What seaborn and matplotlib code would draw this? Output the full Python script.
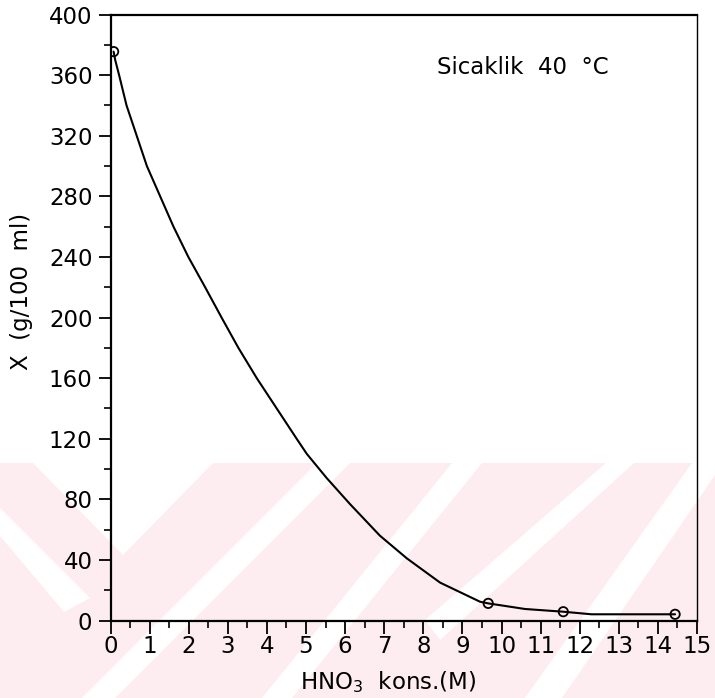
import numpy as np
import pandas as pd
import matplotlib
matplotlib.use("Agg")
import matplotlib.pyplot as plt
import seaborn as sns
from matplotlib.patches import Polygon
from matplotlib.ticker import MultipleLocator

# measured points: HNO3 concentration (M) vs solubility X (g/100 ml)
conc_points = [0.08, 9.66, 11.58, 14.44]
x_points = [375.5, 11.3, 5.8, 4.1]

# the smooth curve drawn through them
conc_curve = [0.08, 0.12, 0.22, 0.41, 0.67, 0.93, 1.27, 1.61, 1.99, 2.42, 2.84,
              3.27, 3.74, 4.25, 4.76, 5.02, 5.53, 6.12, 6.89, 7.58, 8.43, 9.45,
              9.66, 10.6, 11.58, 12.3, 14.44]
x_curve = [375.5, 370, 360, 340, 320, 300, 280, 260, 240, 220, 200,
           180, 160, 140, 120, 110, 94, 77, 56, 41, 25, 12.4,
           11.3, 7.6, 5.8, 4.1, 4.1]

x_ticks = list(range(0, 16))
y_ticks = list(range(0, 401, 40))
note = "Sicaklik  40  °C"

sns.set_style("ticks")
plt.rcParams['font.family'] = ['DejaVu Sans']
for key in ['text.color', 'axes.labelcolor', 'xtick.color', 'ytick.color',
            'axes.edgecolor']:
    plt.rcParams[key] = 'black'

W, H = 715, 698
fig = plt.figure(figsize=(W / 100, H / 100), dpi=100)


def px_poly(pts, color):
    # pts in image pixels (origin top left)
    xy = [(x / W, 1 - y / H) for x, y in pts]
    fig.add_artist(Polygon(xy, closed=True, transform=fig.transFigure,
                           facecolor=color, edgecolor='none', zorder=-5))


# faint watermark band in the lower part of the page
pink = '#fdedf0'
px_poly([(0, 463), (W, 463), (W, H), (0, H)], pink)
for pts in [
    [(33, 463), (213, 463), (123, 555)],
    [(0, 508), (0, 536), (64, 612), (90, 598)],
    [(317, 463), (350, 463), (115, 698), (82, 698)],
    [(452, 463), (482, 463), (292, 698), (262, 698)],
    [(606, 463), (634, 463), (440, 640), (425, 620)],
    [(692, 463), (W, 463), (W, 475), (562, 698), (525, 698)],
]:
    px_poly(pts, 'white')

ax = fig.add_axes([110.5 / W, 1 - 620.5 / H, (697 - 110.5) / W, (620.5 - 14.5) / H])
ax.set_facecolor('none')

sns.lineplot(x=conc_curve, y=x_curve, ax=ax, color='black', linewidth=1.5,
             estimator=None, sort=False)
sns.scatterplot(x=conc_points, y=x_points, ax=ax, marker='o', s=45,
                facecolors='none', edgecolor='black', linewidth=1.3, zorder=5)

ax.set_xlim(0, 15)
ax.set_ylim(0, 400)
ax.set_xticks(x_ticks)
ax.set_yticks(y_ticks)
ax.xaxis.set_minor_locator(MultipleLocator(0.5))
ax.yaxis.set_minor_locator(MultipleLocator(20))
ax.tick_params(which='major', direction='out', length=9, width=1.3,
               labelsize=16.5, pad=1.5)
ax.tick_params(which='minor', direction='out', length=5, width=1.2)
ax.tick_params(axis='y', which='major', pad=4)

for side in ['left', 'bottom', 'top']:
    ax.spines[side].set_linewidth(1.6)
ax.spines['right'].set_linewidth(1.0)

ax.set_xlabel("HNO$_3$  kons.(M)", fontsize=16.5)
ax.xaxis.set_label_coords((388 - 110.5) / (697 - 110.5), -(669 - 620.5) / 606)
ax.set_ylabel("X  (g/100  ml)", fontsize=16.5)
ax.yaxis.set_label_coords(-(110.5 - 33) / (697 - 110.5), (620.5 - 291) / 606)

ax.text(8.35, 365, note, fontsize=16.5, va='center', ha='left')

fig.savefig("out.png", dpi=100)
